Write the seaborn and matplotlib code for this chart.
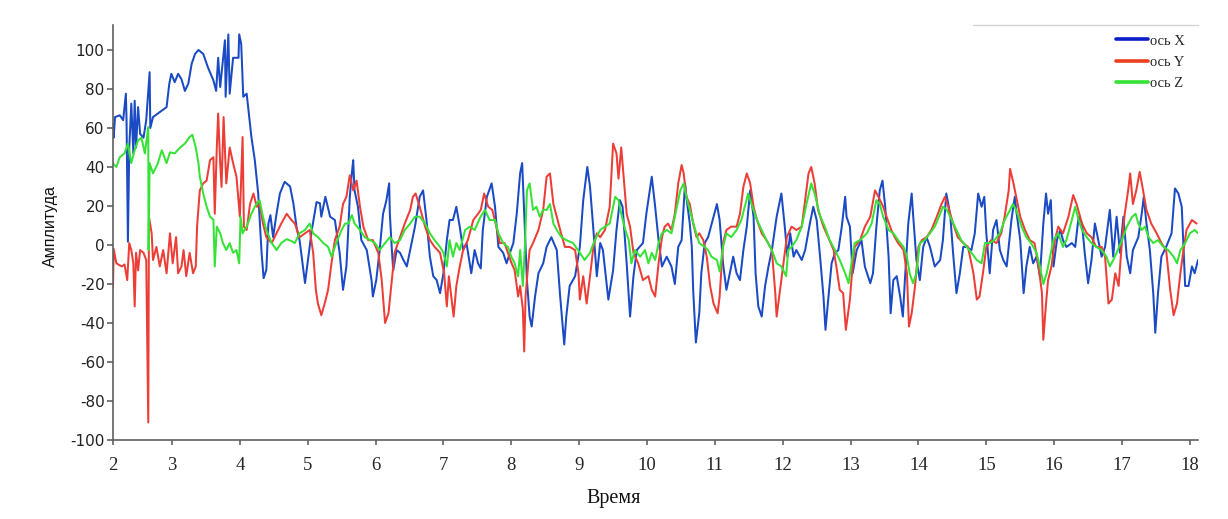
import numpy as np
import pandas as pd
import matplotlib
matplotlib.use("Agg")
import matplotlib.pyplot as plt
import seaborn as sns
from matplotlib.lines import Line2D

# ---------------- data ----------------
x_time = [2.13, 2.14, 2.16, 2.23, 2.28, 2.32, 2.33, 2.35, 2.37, 2.40, 2.43, 2.45, 2.47, 2.50, 2.53, 2.58, 2.62, 2.64, 2.67, 2.68,
          2.72, 2.79, 2.85, 2.92, 2.96, 2.99, 3.04, 3.09, 3.14, 3.19, 3.24, 3.29, 3.34, 3.39, 3.46, 3.53, 3.61, 3.65, 3.68, 3.71,
          3.78, 3.79, 3.83, 3.85, 3.90, 3.98, 3.99, 4.02, 4.05, 4.10, 4.17, 4.22, 4.27, 4.32, 4.35, 4.39, 4.42, 4.45, 4.49, 4.54,
          4.59, 4.66, 4.74, 4.79, 4.84, 4.88, 4.96, 5.01, 5.06, 5.13, 5.18, 5.20, 5.26, 5.33, 5.40, 5.47, 5.52, 5.57, 5.59, 5.62,
          5.65, 5.67, 5.69, 5.74, 5.79, 5.87, 5.94, 5.96, 6.01, 6.06, 6.11, 6.16, 6.20, 6.21, 6.24, 6.26, 6.31, 6.36, 6.41, 6.46,
          6.51, 6.58, 6.65, 6.70, 6.75, 6.80, 6.85, 6.90, 6.95, 7.00, 7.05, 7.09, 7.14, 7.19, 7.24, 7.29, 7.34, 7.41, 7.46, 7.51,
          7.55, 7.58, 7.64, 7.71, 7.76, 7.81, 7.88, 7.93, 7.98, 8.03, 8.08, 8.13, 8.16, 8.19, 8.23, 8.27, 8.30, 8.35, 8.40, 8.47,
          8.52, 8.59, 8.67, 8.72, 8.78, 8.81, 8.86, 8.94, 9.01, 9.06, 9.12, 9.16, 9.21, 9.26, 9.31, 9.35, 9.43, 9.50, 9.55, 9.60,
          9.64, 9.70, 9.75, 9.80, 9.85, 9.94, 9.99, 10.07, 10.12, 10.17, 10.22, 10.29, 10.36, 10.41, 10.46, 10.51, 10.56, 10.58, 10.63, 10.66,
          10.68, 10.72, 10.77, 10.80, 10.85, 10.90, 10.98, 11.03, 11.07, 11.12, 11.17, 11.22, 11.27, 11.32, 11.37, 11.42, 11.47, 11.52, 11.57, 11.60,
          11.64, 11.69, 11.74, 11.79, 11.84, 11.91, 11.98, 12.03, 12.07, 12.11, 12.16, 12.20, 12.28, 12.33, 12.40, 12.45, 12.50, 12.55, 12.60, 12.63,
          12.67, 12.72, 12.77, 12.82, 12.87, 12.92, 12.94, 12.99, 13.03, 13.09, 13.16, 13.21, 13.29, 13.33, 13.38, 13.43, 13.47, 13.51, 13.56, 13.59,
          13.63, 13.68, 13.73, 13.77, 13.80, 13.85, 13.90, 13.92, 13.97, 14.02, 14.07, 14.12, 14.17, 14.24, 14.32, 14.36, 14.41, 14.44, 14.47, 14.51,
          14.56, 14.61, 14.66, 14.71, 14.78, 14.83, 14.88, 14.93, 14.97, 15.00, 15.05, 15.10, 15.15, 15.20, 15.25, 15.30, 15.37, 15.42, 15.44, 15.50,
          15.55, 15.59, 15.64, 15.69, 15.74, 15.79, 15.84, 15.88, 15.91, 15.95, 15.99, 16.04, 16.09, 16.13, 16.18, 16.26, 16.31, 16.36, 16.41, 16.45,
          16.50, 16.55, 16.60, 16.65, 16.70, 16.75, 16.82, 16.87, 16.92, 16.97, 17.02, 17.07, 17.12, 17.16, 17.24, 17.29, 17.32, 17.36, 17.41, 17.46,
          17.49, 17.53, 17.58, 17.65, 17.73, 17.78, 17.83, 17.88, 17.93, 17.98, 18.03, 18.07, 18.12]
x_vals = [62, 55, 65.6, 66.5, 64, 77.6, 64, 1.7, 50, 72.5, 47, 74, 50, 70.7, 57, 55, 64, 74, 88.6, 60,
          65.6, 67.4, 69, 70.7, 82.7, 87.8, 83.5, 87.8, 85, 79, 82.7, 93, 98, 100, 98, 91, 84.4, 79, 96, 81,
          105, 76, 108, 77.6, 96, 96, 108, 103, 76, 77.6, 55.4, 43.5, 26.4, -4, -17, -12.8, 11, 15.3, 4, 16,
          26.4, 32.4, 30, 21, 8, 2.5, -19.5, -6, 7.7, 22, 21.4, 14.5, 24.7, 14.5, 12.8, -4, -23, -11, 2.5, 24.7,
          36.8, 43.5, 28, 19.6, 2.5, -2.6, -18, -26.4, -18, -2.6, 16, 23, 31.6, 16, -2.6, -13, -2.6, -4, -7.7, -11,
          -2.6, 9.4, 24.7, 28, 12.8, -6, -16, -18, -24.7, -14.5, 2.5, 12.8, 12.8, 19.6, 9.4, -2.6, 1, -14.5, -2.6, -9.4,
          -12, 7.7, 24.7, 31.6, 19.6, -1, -4, -9.4, -4, 1, 16, 36.8, 42, 16, -18, -36.7, -41.8, -26.4, -14.5, -9.4,
          -1, 4, -2.6, -26.4, -51, -36.7, -21, -16, -1, 23, 40, 29.8, 7.7, -16, 1, -2.6, -28, -13, 7.7, 23,
          19.6, -9.4, -36.7, -16, -2.6, 1, 16, 35, 19.6, 2.5, -11, -6, -11, -20, -1, 2.5, 31.6, 24.7, 11, -1,
          -23, -50, -35, -14.5, 1, 4, 14.5, 21, 12.8, -9.4, -23, -14.5, -6, -14.5, -18, -2.6, 9.4, 28, 14.5, -14.5,
          -31.5, -36.7, -21, -11, -2.6, 14.5, 26.4, 9.4, -6, 6, -6, -2.6, -7.7, -2.6, 11, 19.6, 12.8, -6, -26.4, -43.5,
          -28, -9.4, -4, -2.6, 9.4, 24.7, 14.5, 9.4, -14.5, -2.6, 2.5, -11, -19.6, -14.5, 9.4, 28, 33, 19.6, -6, -35,
          -18, -16, -26.4, -36.7, -18, 11, 26.4, 16, -7.7, -18, -1, 4, -1, -11, -7.7, 2.5, 26.4, 21, 14.5, -4,
          -24.7, -14.5, -1, -1, -2.6, 6, 26.4, 19.6, 24.7, 6, -14.5, 7.7, 12.8, -2.6, -7.7, -11, 12.8, 24.7, 18, 2.5,
          -24.7, -11, -1, -9.4, -6, -16, 11, 26.4, 16, 23, -11, 2.5, 7.7, 2.5, -1, 1, -1, 14.5, 11, -4,
          -19.6, -7.7, 11, 2.5, -6, -1, 18, -6, 14.5, -4, 14.5, -6, -14.5, -2.6, 4, 16, 24.7, 11, -2.6, -24.7,
          -45, -24.7, -6, -1, 6, 29, 26.4, 19.6, -21, -21, -11, -14.5, -7.7]

y_time = [2.13, 2.14, 2.18, 2.26, 2.30, 2.34, 2.37, 2.40, 2.43, 2.45, 2.47, 2.50, 2.53, 2.58, 2.62, 2.65, 2.66, 2.70, 2.72, 2.77,
          2.82, 2.87, 2.92, 2.97, 3.01, 3.06, 3.09, 3.14, 3.17, 3.21, 3.26, 3.31, 3.35, 3.37, 3.41, 3.46, 3.51, 3.56, 3.61, 3.63,
          3.66, 3.68, 3.71, 3.73, 3.76, 3.80, 3.85, 3.90, 3.95, 4.00, 4.04, 4.06, 4.10, 4.15, 4.20, 4.25, 4.29, 4.34, 4.39, 4.47,
          4.54, 4.61, 4.69, 4.76, 4.81, 4.88, 4.96, 5.03, 5.08, 5.12, 5.15, 5.20, 5.25, 5.30, 5.35, 5.40, 5.47, 5.52, 5.57, 5.62,
          5.67, 5.72, 5.77, 5.82, 5.89, 5.96, 6.04, 6.09, 6.14, 6.19, 6.24, 6.28, 6.36, 6.43, 6.51, 6.55, 6.59, 6.65, 6.73, 6.80,
          6.87, 6.95, 7.01, 7.05, 7.08, 7.12, 7.15, 7.19, 7.24, 7.29, 7.36, 7.44, 7.51, 7.55, 7.60, 7.66, 7.72, 7.78, 7.83, 7.90,
          7.95, 8.00, 8.05, 8.10, 8.13, 8.17, 8.19, 8.21, 8.25, 8.27, 8.32, 8.40, 8.47, 8.52, 8.57, 8.62, 8.67, 8.72, 8.79, 8.86,
          8.94, 8.99, 9.01, 9.06, 9.11, 9.16, 9.21, 9.26, 9.31, 9.38, 9.45, 9.50, 9.55, 9.58, 9.62, 9.66, 9.70, 9.75, 9.80, 9.87,
          9.94, 10.02, 10.07, 10.12, 10.17, 10.22, 10.26, 10.31, 10.36, 10.41, 10.46, 10.51, 10.54, 10.58, 10.63, 10.68, 10.73, 10.77, 10.83, 10.88,
          10.93, 10.98, 11.04, 11.07, 11.12, 11.17, 11.24, 11.32, 11.37, 11.42, 11.47, 11.52, 11.57, 11.62, 11.69, 11.76, 11.84, 11.89, 11.91, 11.96,
          12.01, 12.06, 12.13, 12.20, 12.28, 12.33, 12.38, 12.42, 12.47, 12.52, 12.60, 12.67, 12.75, 12.79, 12.84, 12.89, 12.93, 12.99, 13.02, 13.06,
          13.14, 13.21, 13.29, 13.36, 13.41, 13.48, 13.53, 13.60, 13.65, 13.70, 13.78, 13.83, 13.86, 13.90, 13.95, 14.00, 14.05, 14.12, 14.19, 14.27,
          14.34, 14.39, 14.44, 14.51, 14.58, 14.66, 14.73, 14.81, 14.86, 14.90, 14.95, 15.00, 15.07, 15.15, 15.22, 15.27, 15.33, 15.35, 15.40, 15.44,
          15.50, 15.57, 15.64, 15.71, 15.77, 15.82, 15.84, 15.88, 15.91, 15.96, 16.01, 16.06, 16.13, 16.21, 16.28, 16.33, 16.41, 16.48, 16.55, 16.62,
          16.70, 16.75, 16.80, 16.85, 16.90, 16.95, 17.00, 17.04, 17.09, 17.12, 17.16, 17.21, 17.26, 17.31, 17.36, 17.43, 17.51, 17.58, 17.65, 17.71,
          17.76, 17.81, 17.86, 17.90, 17.95, 18.03, 18.10]
y_vals = [-22, -2, -9.4, -11, -10, -18, 1, -2.6, -9.4, -31.5, -4, -13, -2.6, -4, -7.7, -91, 14.5, 6, -7.7, -1,
          -11, -2.6, -14.5, 6, -9.4, 4, -14.5, -11, -2.6, -16, -4, -14.5, -11, 10, 28, 31.6, 33, 43.5, 45, 16,
          50, 67.4, 42, 29.8, 65.6, 31.6, 50, 42, 35, 14.5, 55.4, 9.4, 7.7, 21, 26.4, 19.6, 21, 11, 4, 1,
          6, 11, 16, 12.8, 11, 4, 6, 7.7, -4, -23, -30, -36, -30, -23, -9.4, 2.5, 9.4, 21, 24.7, 35.8,
          28, 33, 19.6, 9.4, 2.5, 2.5, -4, -18, -40, -35, -18, -4, 4, 11, 18, 24.7, 26.4, 19.6, 9.4, 2.5,
          -1, -4, -14.5, -31.5, -16, -28, -36.7, -21, -11, -2.6, 2.5, 12.8, 16, 18, 26.4, 19.6, 18, 9.4, 1, 1,
          -4, -9, -13, -26.4, -21, -33, -54.6, -26.4, -9.4, -2.6, 1, 7.7, 18, 35, 36.7, 21, 14.5, 7.7, -1, -1,
          -2.6, -14.5, -28, -16, -30, -16, -1, 6, 4, 7.7, 19.6, 52, 47, 34, 50, 33, 16, 9.4, -4, -9.4,
          -18, -16, -23, -26.4, -9.4, 4, 9.4, 11, 7.7, 16, 31.6, 41, 36.8, 24.7, 21, 11, 4, 6, 2.5, -6,
          -21, -30, -35, -26.4, 1, 7.7, 9.4, 9.4, 16, 29.8, 36.7, 31.6, 19.6, 12.8, 6, 2.5, -2.6, -24.7, -36.7, -23,
          -9.4, 4, 9.4, 7.7, 9.4, 23, 36.7, 40, 31.6, 18, 9.4, 4, -2.6, -11, -23, -24.7, -43.5, -28, -14.5, -1,
          2.5, 9.4, 14.5, 28, 24.7, 19.6, 14.5, 7.7, 4, 1, -2.6, -14.5, -41.8, -35, -21, -1, 2.5, 4, 7.7, 14.5,
          21, 24.7, 19.6, 11, 4, 1, -1, -14.5, -28, -26.4, -14.5, -1, 2.5, 1, 6, 14.5, 28, 39, 31.6, 24.7,
          14.5, 7.7, 2.5, 1, -11, -24.7, -48.6, -30, -18, -11, 2.5, 9.4, 6, 14.5, 25.6, 21, 11, 6, 4, -1,
          -1, -6, -30, -28, -14.5, -21, 2.5, 16, 28, 36.7, 21, 28, 37.5, 28, 18, 11, 6, 1, -2.6, -23,
          -36, -30, -14.5, -4, 7.7, 12.8, 11]

z_time = [2.13, 2.18, 2.23, 2.30, 2.35, 2.40, 2.45, 2.50, 2.55, 2.60, 2.65, 2.655, 2.67, 2.72, 2.79, 2.85, 2.92, 2.97, 3.04, 3.12,
          3.19, 3.26, 3.30, 3.35, 3.39, 3.41, 3.46, 3.51, 3.56, 3.61, 3.63, 3.66, 3.71, 3.75, 3.80, 3.85, 3.90, 3.95, 3.99, 4.01,
          4.04, 4.10, 4.17, 4.22, 4.29, 4.34, 4.39, 4.47, 4.54, 4.61, 4.69, 4.76, 4.81, 4.88, 4.96, 5.03, 5.08, 5.15, 5.23, 5.30,
          5.35, 5.42, 5.50, 5.55, 5.60, 5.65, 5.69, 5.77, 5.84, 5.92, 5.99, 6.06, 6.14, 6.21, 6.28, 6.36, 6.43, 6.51, 6.58, 6.65,
          6.73, 6.80, 6.87, 6.95, 7.00, 7.05, 7.09, 7.14, 7.19, 7.24, 7.32, 7.39, 7.46, 7.54, 7.61, 7.68, 7.76, 7.81, 7.88, 7.95,
          8.00, 8.05, 8.10, 8.13, 8.17, 8.20, 8.23, 8.27, 8.32, 8.37, 8.42, 8.47, 8.52, 8.57, 8.62, 8.67, 8.74, 8.81, 8.91, 9.01,
          9.08, 9.16, 9.23, 9.31, 9.38, 9.45, 9.53, 9.58, 9.62, 9.68, 9.73, 9.77, 9.82, 9.90, 9.97, 10.02, 10.07, 10.12, 10.17, 10.22,
          10.29, 10.36, 10.41, 10.49, 10.54, 10.58, 10.63, 10.71, 10.77, 10.85, 10.90, 10.95, 11.03, 11.07, 11.12, 11.17, 11.24, 11.32, 11.39, 11.44,
          11.49, 11.54, 11.62, 11.69, 11.76, 11.84, 11.91, 11.98, 12.05, 12.08, 12.13, 12.20, 12.28, 12.35, 12.42, 12.47, 12.55, 12.62, 12.69, 12.77,
          12.84, 12.92, 12.97, 13.02, 13.06, 13.14, 13.24, 13.31, 13.38, 13.43, 13.48, 13.56, 13.63, 13.70, 13.78, 13.83, 13.87, 13.92, 13.97, 14.02,
          14.09, 14.17, 14.24, 14.32, 14.36, 14.42, 14.49, 14.56, 14.63, 14.71, 14.78, 14.86, 14.93, 14.98, 15.05, 15.12, 15.20, 15.27, 15.35, 15.39,
          15.44, 15.52, 15.59, 15.66, 15.74, 15.79, 15.84, 15.89, 15.93, 15.99, 16.06, 16.13, 16.18, 16.26, 16.31, 16.36, 16.41, 16.48, 16.55, 16.62,
          16.70, 16.77, 16.82, 16.87, 16.92, 17.00, 17.07, 17.15, 17.20, 17.24, 17.29, 17.34, 17.39, 17.46, 17.53, 17.61, 17.68, 17.76, 17.81, 17.86,
          17.93, 18.00, 18.07, 18.12]
z_vals = [41.8, 40, 45, 47, 52, 42, 48.6, 53.7, 55, 47, 60.5, -2.6, 42, 36.7, 41.8, 48.6, 42, 47.5, 47, 50,
          52, 55.4, 56.5, 50, 41.8, 35, 26.4, 19.6, 14.5, 13, -11, 9.4, 6, 1, -2.6, 1, -4, -2.6, -9.4, 14.5,
          6, 9.4, 16, 19.6, 23, 14.5, 7.7, 1, -2.6, 1, 3, 2, 1, 6, 7.7, 11, 6, 4, 1, -1,
          -6, 1, 7.7, 11, 11, 15.3, 11, 7.7, 4, 2.5, 1, -2.6, 1, 4, 1, 2.5, 7.7, 11, 14.5, 14.5,
          11, 6, 2.5, -1, -4, -11, 2.5, -6, 1, -2.6, 7.7, 9.4, 7.7, 14, 18, 12.8, 12.8, 6, 1, -1,
          -6, -9.4, -16, -2.6, -21, -1, 28, 31.6, 18, 19.6, 14.5, 18, 18, 21, 11, 7.7, 4, 2.5, 1, -4,
          -7.7, -4, 2.5, 7.7, 9.4, 11, 24.7, 23, 16, 7.7, 2.5, -9.4, -2.6, -6, -2.6, -9.4, -4, -7.7, 1, 6,
          7.7, 6, 14.5, 28, 31.6, 24.7, 18, 7.7, 1, -1, -2.6, -6, -7.7, -13.6, -1, 6, 4, 7.7, 12.8, 19.6,
          26.4, 21, 12.8, 7.7, 2.5, -2.6, -9.4, -11, -16, -2.6, -1, 2.5, 9.4, 21, 31.6, 26.4, 15, 9.4, 2.5, -2.6,
          -7.7, -14.5, -19.6, -7.7, 1, 2.5, 6, 11, 23, 21, 14.5, 7.7, 6, 2.5, -1, -6, -14.5, -19.6, -14.5, 1,
          2.5, 6, 9.4, 16, 19.6, 18, 12.8, 7.7, 2.5, -1, -4, -7.7, -9.4, 1, 1, 2.5, 6, 12.8, 18, 21,
          18, 9.4, 4, 1, -4, -11, -20, -14.5, -7.7, 2.5, 6, -1, 2.5, 12.8, 19.6, 12.8, 7.7, 4, 1, -1,
          -2.6, -6, -11, -7.7, -4, 2.5, 9.4, 14.5, 16, 11, 7.7, 9.4, 4, 1, 2.5, -1, -2.6, -6, -9.4, -2.6,
          1, 6, 7.7, 6]

series_names = ["ось X", "ось Y", "ось Z"]
series_colors = ["#1a4ac4", "#ec3e37", "#36e236"]
x_ticks = list(range(3, 19))
x_tick_labels = ["2"] + [str(v) for v in x_ticks]
y_ticks = list(range(-100, 101, 20))

# ---------------- build long-form table ----------------
df = pd.concat([
    pd.DataFrame({"t": x_time, "v": x_vals, "axis": series_names[0]}),
    pd.DataFrame({"t": y_time, "v": y_vals, "axis": series_names[1]}),
    pd.DataFrame({"t": z_time, "v": z_vals, "axis": series_names[2]}),
], ignore_index=True)

sns.set_style("ticks")
plt.rcParams["font.family"] = ["DejaVu Sans"]

fig = plt.figure(figsize=(12.28, 5.19), dpi=100)
ax = fig.add_axes([0.092, 0.1522, 0.8836, 0.7996])

sns.lineplot(data=df, x="t", y="v", hue="axis", hue_order=series_names,
             palette=dict(zip(series_names, series_colors)),
             estimator=None, sort=False, linewidth=1.45, ax=ax, legend=False)

x0, x1 = 2.13, 18.12
ax.set_xlim(x0, x1)
ax.set_ylim(-100, 112.8)
ax.set_xticks([x0] + x_ticks)
ax.set_xticklabels(x_tick_labels, fontfamily="Liberation Serif", fontsize=13.5)
ax.set_yticks(y_ticks)
ax.set_yticklabels([str(v) for v in y_ticks], fontfamily="DejaVu Sans", fontsize=11, color="#222222")

ax.tick_params(axis="x", direction="out", length=3.5, width=1.1, color="#555555", pad=9)
ax.tick_params(axis="y", direction="out", length=4.5, width=1.1, color="#555555", pad=1.5)

for side in ["top", "right"]:
    ax.spines[side].set_visible(False)
for side in ["left", "bottom"]:
    ax.spines[side].set_color("#606060")
    ax.spines[side].set_linewidth(1.2)

# faint line at top right (legend box edge)
ax.axhline(112.8, xmin=0.793, xmax=1.0, color="#d4d4d4", lw=1.0, clip_on=False)

ax.set_xlabel("Время", fontfamily="Liberation Serif", fontsize=14.5, color="#111111")
ax.xaxis.set_label_coords(0.461, -0.118)
ax.set_ylabel("Амплитуда", fontfamily="Liberation Sans", fontsize=11.5, color="#111111")
ax.yaxis.set_label_coords(-0.051, 0.515)

handles = [Line2D([0], [0], color=c, lw=2.6) for c in ["#0a1ec8", "#ec3e20", "#36e236"]]
leg = ax.legend(handles, series_names, loc="upper right", bbox_to_anchor=(0.995, 0.995),
                frameon=False, prop={"family": "Liberation Serif", "size": 10.5},
                handlelength=2.2, handletextpad=0.15, labelspacing=0.55, borderpad=0.0)

fig.savefig("out.png", dpi=100)
